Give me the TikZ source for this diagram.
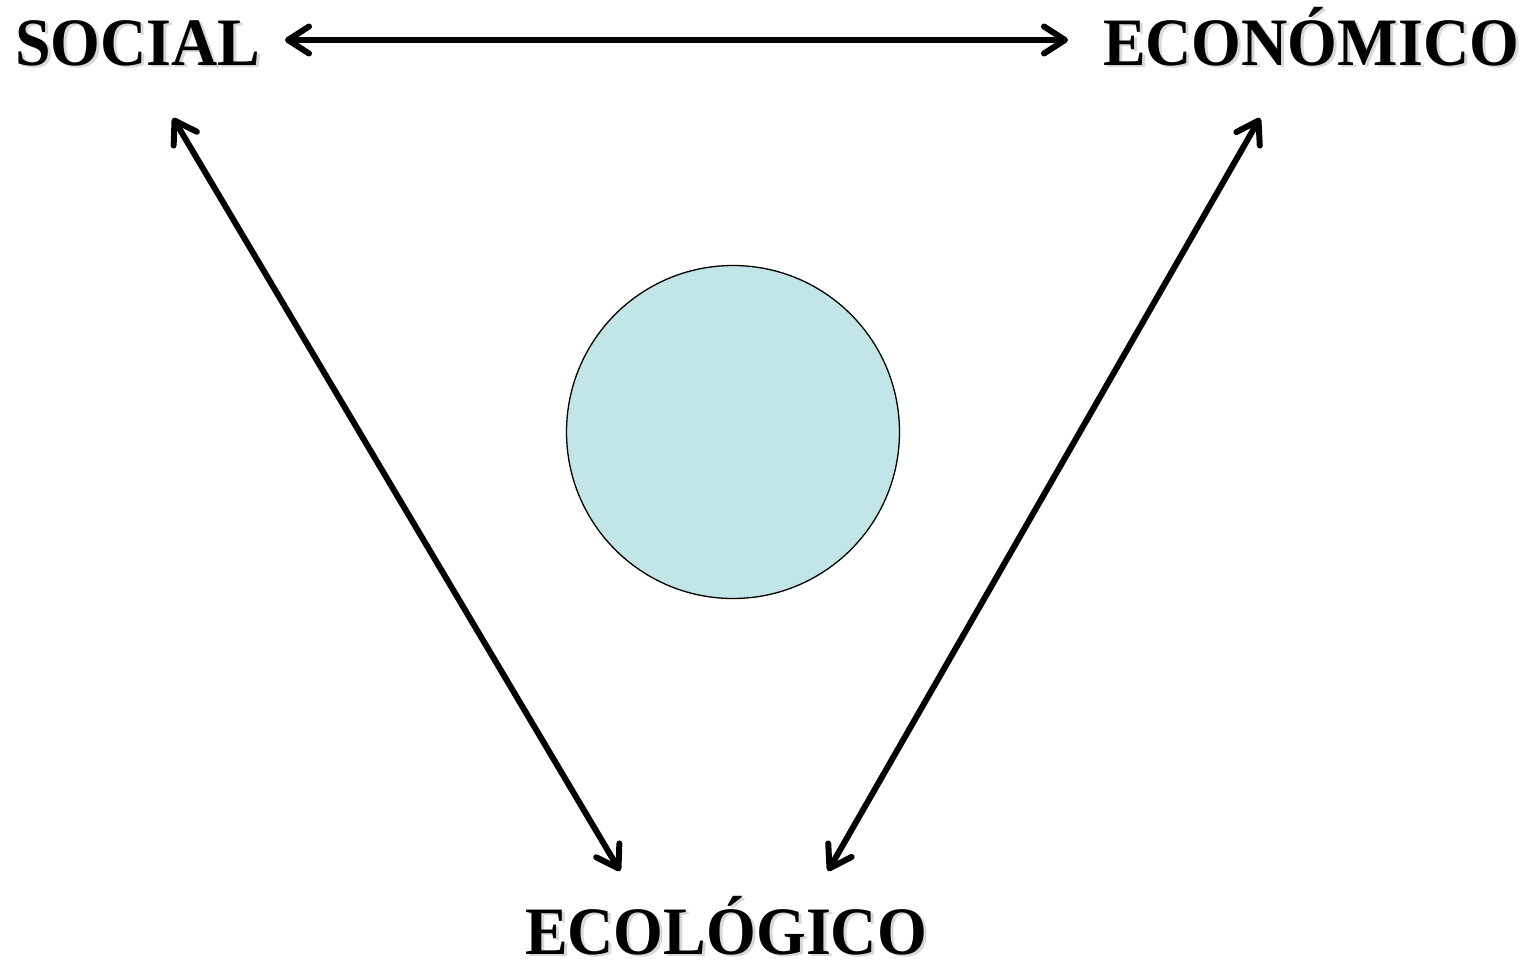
\documentclass[tikz,border=0pt]{standalone}
\usepackage{fontspec}
\setmainfont{Liberation Serif}
\usetikzlibrary{arrows.meta}
\definecolor{globe}{HTML}{C2E5E8}
\tikzset{
  lbl/.style={inner sep=0pt, anchor=base, font=\fontsize{64}{64}\selectfont\bfseries, yscale=1.06},
  shd/.style={lbl, text=black!30, opacity=0.5},
  barb/.tip={Straight Barb[length=21pt,width=27pt,line width=6pt,round]},
  link/.style={line width=6pt, barb-barb},
}
\begin{document}
\begin{tikzpicture}[x=1pt,y=-1pt]
\useasboundingbox (0,0) rectangle (1536,964);
% shadows
\node[shd] at (141,67) {SOCIAL};
\node[shd] at (1314,67) {ECONÓMICO};
\node[shd] at (729,956) {ECOLÓGICO};
% labels
\node[lbl] (soc) at (138,65) {SOCIAL};
\node[lbl] (eco) at (1311,65) {ECONÓMICO};
\node[lbl] (ecol) at (726,954) {ECOLÓGICO};
% endpoints
\coordinate (a1) at (285,40);
\coordinate (a2) at (1068,40);
\coordinate (b1) at (173,118);
\coordinate (b2) at (620,871);
\coordinate (c1) at (1260,118);
\coordinate (c2) at (828,871);
\draw[link] (a1) -- (a2);
\draw[link] (b1) -- (b2);
\draw[link] (c1) -- (c2);
\node[circle, draw=black, line width=1.3pt, fill=globe, minimum size=333pt, inner sep=0pt] (globe) at (733,432) {};
\end{tikzpicture}
\end{document}
